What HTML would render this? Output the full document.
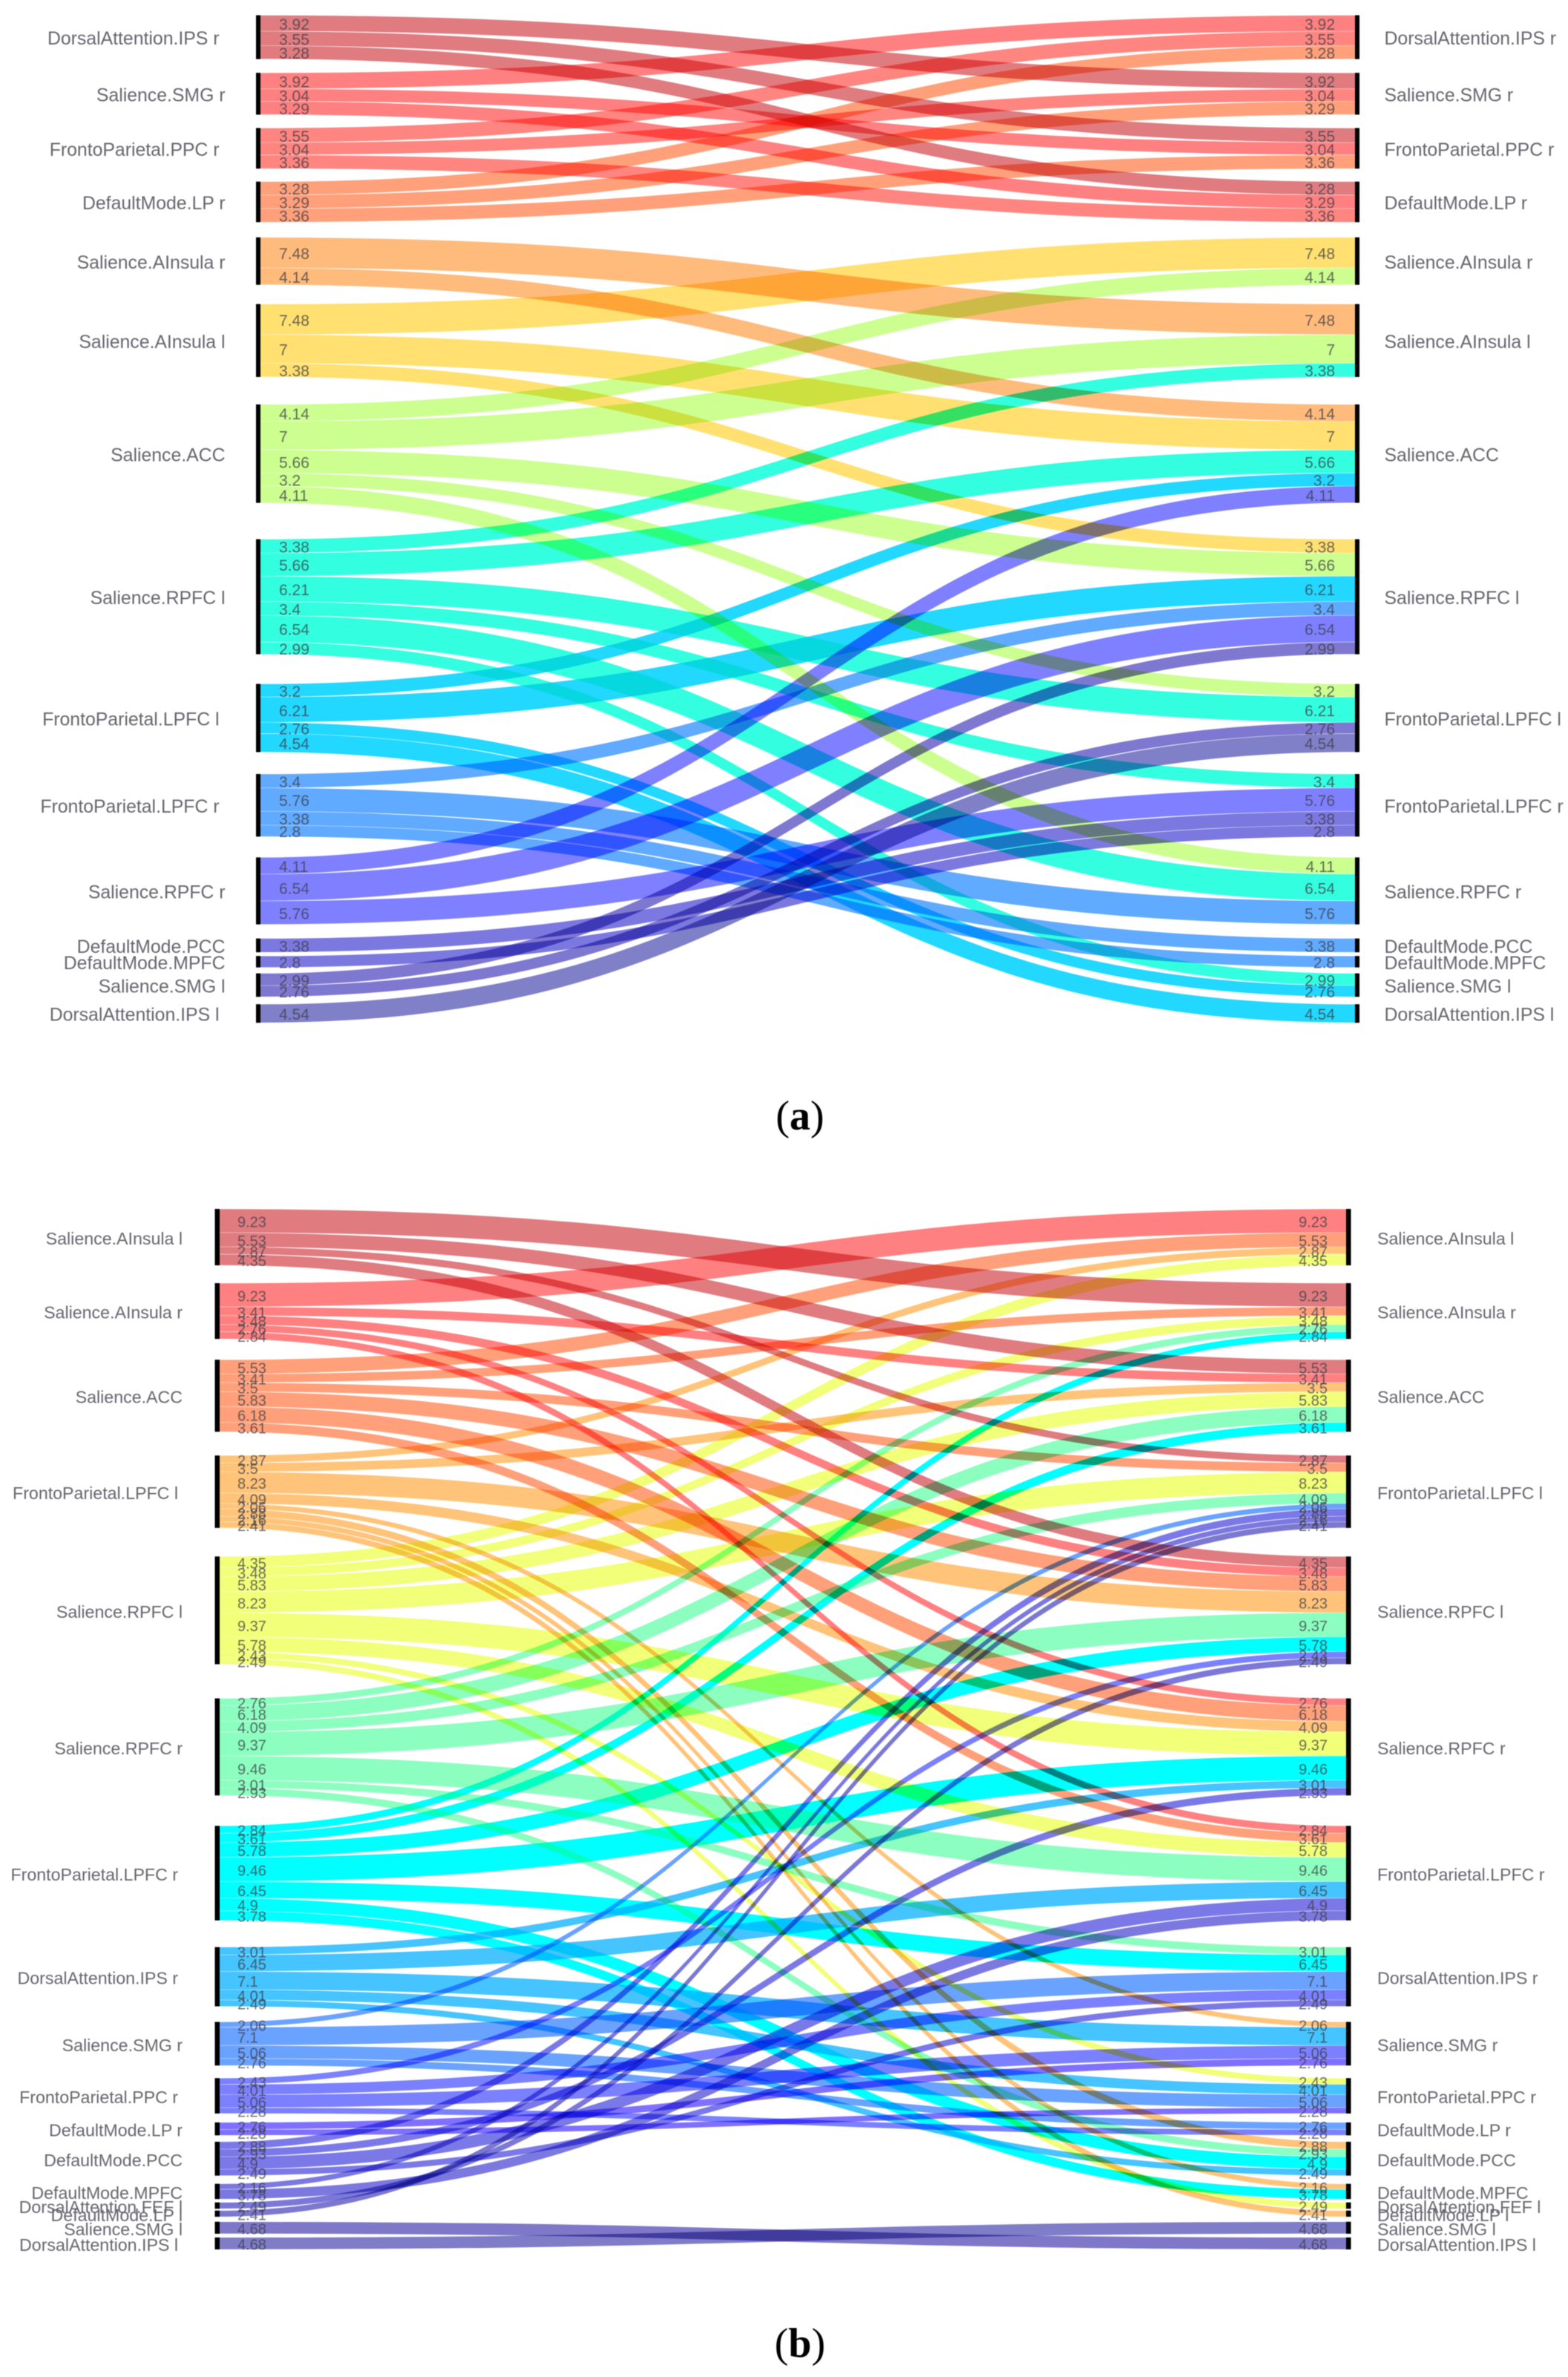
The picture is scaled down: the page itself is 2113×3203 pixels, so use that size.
<!DOCTYPE html>
<html lang="en">
<head>
<meta charset="utf-8">
<title>Connectivity ribbon diagrams</title>
<style>
html,body{margin:0;padding:0;background:#fff;}
#stage{display:block;width:2113px;height:3203px;filter:blur(0.6px);isolation:isolate;background:#fff;}
.ribbon{mix-blend-mode:multiply;}
.node-label{font-family:"Liberation Sans",sans-serif;fill:#66666e;}
.value-label{font-family:"Liberation Sans",sans-serif;fill:#3c3c46;fill-opacity:.75;}
.caption{font-family:"Liberation Serif",serif;font-size:56px;fill:#000;}
</style>
</head>
<body>
<svg id="stage" xmlns="http://www.w3.org/2000/svg" width="2113" height="3203" viewBox="0 0 2113 3203">
  <rect width="2113" height="3203" fill="#fff"/>
  <g id="panel-a"></g>
  <g id="panel-b"></g>
  <text class="caption" x="1078" y="1522" text-anchor="middle">(<tspan font-weight="bold">a</tspan>)</text>
  <text class="caption" x="1078" y="3176" text-anchor="middle">(<tspan font-weight="bold">b</tspan>)</text>
</svg>
<script>
// ---------- Panel (a) data ----------
const aNodes = ["DorsalAttention.IPS r","Salience.SMG r","FrontoParietal.PPC r","DefaultMode.LP r","Salience.AInsula r","Salience.AInsula l","Salience.ACC","Salience.RPFC l","FrontoParietal.LPFC l","FrontoParietal.LPFC r","Salience.RPFC r","DefaultMode.PCC","DefaultMode.MPFC","Salience.SMG l","DorsalAttention.IPS l"];
const aFrom   = [0,0,0,1,1,2,4,4,5,5,6,6,6,7,7,7,7,8,8,9,9,9];
const aTo     = [1,2,3,2,3,3,5,6,6,7,7,8,10,8,9,10,13,13,14,10,11,12];
const aValues = [3.92,3.55,3.28,3.04,3.29,3.36,7.48,4.14,7,3.38,5.66,3.2,4.11,6.21,3.4,6.54,2.99,2.76,4.54,5.76,3.38,2.8];

// ---------- Panel (b) data ----------
const bNodes = ["Salience.AInsula l","Salience.AInsula r","Salience.ACC","FrontoParietal.LPFC l","Salience.RPFC l","Salience.RPFC r","FrontoParietal.LPFC r","DorsalAttention.IPS r","Salience.SMG r","FrontoParietal.PPC r","DefaultMode.LP r","DefaultMode.PCC","DefaultMode.MPFC","DorsalAttention.FEF l","DefaultMode.LP l","Salience.SMG l","DorsalAttention.IPS l"];
const bFrom   = [0,0,0,0, 1,1,1,1, 2,2,2,2, 3,3,3,3,3,3, 4,4,4,4, 5,5,5, 6,6,6, 7,7,7, 8,8, 9, 15];
const bTo     = [1,2,3,4, 2,4,5,6, 3,4,5,6, 4,5,8,11,12,14, 5,6,9,13, 6,7,11, 7,11,12, 8,9,11, 9,10, 10, 16];
const bValues = [9.23,5.53,2.87,4.35, 3.41,3.48,2.76,2.84, 3.5,5.83,6.18,3.61, 8.23,4.09,2.06,2.88,2.16,2.41, 9.37,5.78,2.43,2.49, 9.46,3.01,2.93, 6.45,4.9,3.78, 7.1,4.01,2.49, 5.06,2.76, 2.28, 4.68];

// ---------- Styling (not data) ----------
const aColors = ["#e07c80","#ff8080","#ff8580","#ffa07a","#ffbb7c","#ffe070","#ccff90","#33ffe0","#22d8ff","#60aaff","#7f80ff","#7b78e0","#7b78e0","#7f78d0","#7f80c8"];
const bColors = ["#e07c80","#ff8080","#ffa07a","#ffc47a","#f2ff78","#8cffc0","#00ffff","#45c4ff","#6aa2ff","#7b80ff","#7f70ff","#7b78e8","#7b78e0","#7b78d8","#7b78d0","#7f78c8","#7f7cc8"];
const aGaps = [18.5,18,17.5,20.5,26,37,49,40,29.5,28,19,5,8,10];
const bGaps = [24,28,32,38.5,46,41,36,21,17,12,8.6,11,4.5,2.4,6.7,5];

const SVG_NS = "http://www.w3.org/2000/svg";

function labelInset(name, amount) {
  const shifted = name.indexOf("FrontoParietal") === 0 || name.indexOf("DorsalAttention.IPS") === 0;
  return shifted ? amount : 0;
}

function drawPanel(root, nodes, from, to, values, colors, gaps, geom) {
  const partners = nodes.map(function () { return []; });
  for (let i = 0; i < values.length; i++) {
    if (!(values[i] > 0)) continue;
    partners[from[i]].push({ other: to[i], value: values[i] });
    partners[to[i]].push({ other: from[i], value: values[i] });
  }
  partners.forEach(function (list) {
    list.sort(function (p, q) { return p.other - q.other; });
  });

  const yValue = function (v) { return v * geom.scale; };
  const tops = [];
  const heights = [];
  let cursor = geom.top;
  nodes.forEach(function (name, n) {
    const total = partners[n].reduce(function (s, p) { return s + p.value; }, 0);
    tops.push(cursor);
    heights.push(yValue(total));
    let y = cursor;
    partners[n].forEach(function (p) {
      p.y0 = y;
      p.y1 = y + yValue(p.value);
      y = p.y1;
    });
    cursor += yValue(total) + (n < gaps.length ? gaps[n] : 0);
  });

  const findSegment = function (n, other) {
    return partners[n].find(function (p) { return p.other === other; });
  };
  const xMid = (geom.leftEdge + geom.rightEdge) / 2;

  nodes.forEach(function (name, n) {
    partners[n].forEach(function (p) {
      const target = findSegment(p.other, n);
      const inset = 0.2;
      const x0 = geom.leftEdge, x1 = geom.rightEdge;
      const a0 = p.y0 + inset, a1 = p.y1 - inset;
      const b0 = target.y0 + inset, b1 = target.y1 - inset;
      const d = "M" + x0 + " " + a0 +
        "C" + xMid + " " + a0 + " " + xMid + " " + b0 + " " + x1 + " " + b0 +
        "L" + x1 + " " + b1 +
        "C" + xMid + " " + b1 + " " + xMid + " " + a1 + " " + x0 + " " + a1 + "Z";
      const el = document.createElementNS(SVG_NS, "path");
      el.setAttribute("d", d);
      el.setAttribute("fill", colors[n]);
      el.setAttribute("class", "ribbon");
      
      
      root.appendChild(el);
    });
  });

  nodes.forEach(function (name, n) {
    const centre = tops[n] + heights[n] / 2;

    const leftBar = document.createElementNS(SVG_NS, "rect");
    leftBar.setAttribute("x", geom.leftEdge - geom.barWidth);
    leftBar.setAttribute("y", tops[n]);
    leftBar.setAttribute("width", geom.barWidth);
    leftBar.setAttribute("height", heights[n]);
    leftBar.setAttribute("fill", "#000");
    
    
    root.appendChild(leftBar);

    const rightBar = document.createElementNS(SVG_NS, "rect");
    rightBar.setAttribute("x", geom.rightEdge);
    rightBar.setAttribute("y", tops[n]);
    rightBar.setAttribute("width", geom.barWidth);
    rightBar.setAttribute("height", heights[n]);
    rightBar.setAttribute("fill", "#000");
    
    
    root.appendChild(rightBar);

    const leftLabel = document.createElementNS(SVG_NS, "text");
    leftLabel.setAttribute("x", geom.leftLabelX - labelInset(name, geom.labelInset));
    leftLabel.setAttribute("y", centre + 10);
    leftLabel.setAttribute("text-anchor", "end");
    leftLabel.setAttribute("font-size", geom.labelSize);
    leftLabel.setAttribute("class", "node-label");
    
    
    leftLabel.textContent = name;
    root.appendChild(leftLabel);

    const rightLabel = document.createElementNS(SVG_NS, "text");
    rightLabel.setAttribute("x", geom.rightLabelX);
    rightLabel.setAttribute("y", centre + 10);
    rightLabel.setAttribute("font-size", geom.labelSize);
    rightLabel.setAttribute("class", "node-label");
    
    
    rightLabel.textContent = name;
    root.appendChild(rightLabel);

    partners[n].forEach(function (p) {
      const mid = (p.y0 + p.y1) / 2 + 8.5;

      const leftValue = document.createElementNS(SVG_NS, "text");
      leftValue.setAttribute("x", geom.leftValueX);
      leftValue.setAttribute("y", mid);
      leftValue.setAttribute("font-size", geom.valueSize);
      leftValue.setAttribute("class", "value-label");
      
      
      leftValue.textContent = String(p.value);
      root.appendChild(leftValue);

      const rightValue = document.createElementNS(SVG_NS, "text");
      rightValue.setAttribute("x", geom.rightValueX);
      rightValue.setAttribute("y", mid);
      rightValue.setAttribute("text-anchor", "end");
      rightValue.setAttribute("font-size", geom.valueSize);
      rightValue.setAttribute("class", "value-label");
      
      
      rightValue.textContent = String(p.value);
      root.appendChild(rightValue);
    });
  });
}

drawPanel(document.getElementById("panel-a"), aNodes, aFrom, aTo, aValues, aColors, aGaps, {
  top: 20.5, scale: 5.5, leftEdge: 351, rightEdge: 1826, barWidth: 6,
  leftLabelX: 303.5, rightLabelX: 1865.5, leftValueX: 376, rightValueX: 1799, labelInset: 8,
  labelSize: 24.8, valueSize: 21
});
drawPanel(document.getElementById("panel-b"), bNodes, bFrom, bTo, bValues, bColors, bGaps, {
  top: 1629, scale: 3.46, leftEdge: 296, rightEdge: 1814, barWidth: 6.5,
  leftLabelX: 246, rightLabelX: 1856, leftValueX: 320, rightValueX: 1789, labelInset: 6,
  labelSize: 23.2, valueSize: 20
});
</script>
</body>
</html>
